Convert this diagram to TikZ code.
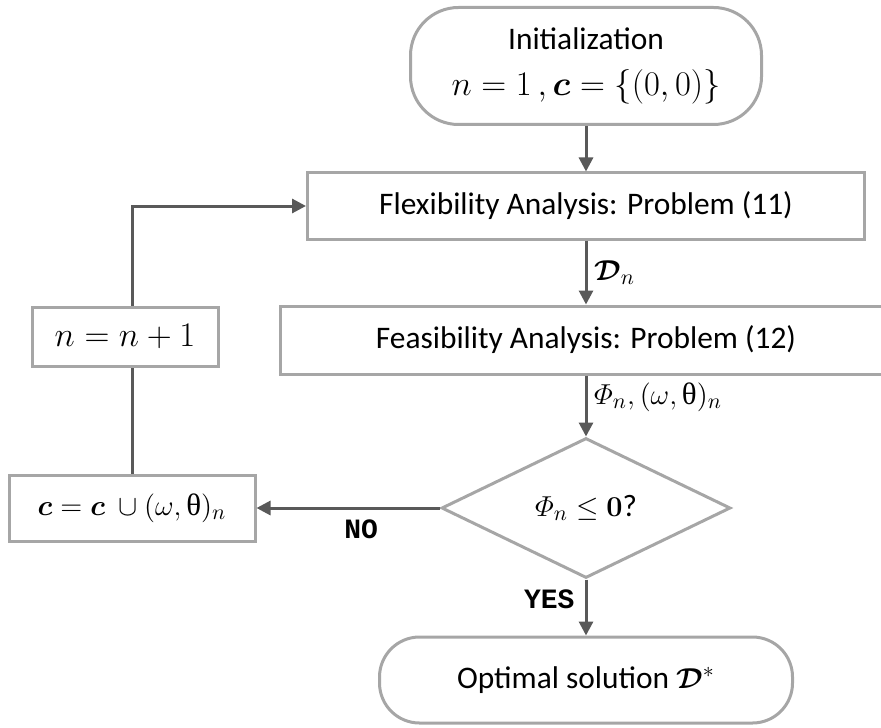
\documentclass[tikz,border=0pt]{standalone}
\usepackage{amsmath}
\usepackage[no-math]{fontspec}
\setmainfont{Carlito}
\setmonofont{Liberation Mono}
\newfontfamily\grkserif{Liberation Serif}
\usetikzlibrary{arrows.meta,shapes.geometric}
\definecolor{boxborder}{RGB}{166,166,166}
\definecolor{flowgray}{RGB}{89,89,89}
\newcommand{\uth}{\text{\grkserif θ}}
\newcommand{\mathsz}{\fontsize{15.5}{18}\selectfont}
\newcommand{\mathbig}{\fontsize{17}{20}\selectfont}
\tikzset{
  procbox/.style={draw=boxborder, line width=1.5pt, fill=white, align=center,
    inner sep=0pt, text=black},
  termbox/.style={procbox, rounded corners=24pt},
  decision/.style={procbox, diamond, aspect=2.06},
  flow/.style={-{Triangle[length=7pt,width=7pt]}, line width=1.5pt, draw=flowgray},
  link/.style={line width=1.5pt, draw=flowgray},
  flowlabel/.style={font=\mathsz, text=black},
  answer/.style={font=\ttfamily\bfseries\fontsize{14}{16}\selectfont, text=black, inner sep=5pt}
}

\begin{document}
\begin{tikzpicture}[x=0.5pt, y=-0.5pt, font=\fontsize{15.7}{18}\selectfont]
  \clip (0,0) rectangle (881,727);

  \node[termbox, minimum width=175.5pt, minimum height=58.5pt] (init) at (586,66)
    {Initialization\\[5pt]{\mathbig $n=1\,,\boldsymbol{c}=\{(0,0)\}$}};
  \node[procbox, minimum width=278.5pt, minimum height=33pt] (flex) at (586,206)
    {Flexibility Analysis: Problem (11)};
  \node[procbox, minimum width=306pt, minimum height=34pt] (feas) at (586,340)
    {Feasibility Analysis: Problem (12)};
  \node[decision, minimum width=144.5pt, minimum height=70pt] (check) at (586,508)
    {\mathsz $\varPhi_n\leq\mathbf{0}$?};
  \node[procbox, minimum width=123pt, minimum height=33pt] (update) at (132,508)
    {\mathsz $\boldsymbol{c}=\boldsymbol{c}\ \cup(\omega,\uth)_n$};
  \node[procbox, minimum width=93pt, minimum height=29.5pt] (incr) at (125,336.5)
    {\fontsize{16.5}{19}\selectfont $n=n+1$};
  \node[termbox, rounded corners=20pt, minimum width=206.5pt, minimum height=43pt] (opt) at (586,680)
    {Optimal solution {\mathsz $\boldsymbol{\mathcal{D}}^*$}};

  \draw[flow] (init) -- (flex);
  \draw[flow] (flex) -- node[flowlabel, right] {$\boldsymbol{\mathcal{D}}_n$} (feas);
  \draw[flow] (feas) -- node[flowlabel, right, pos=0.35] {$\varPhi_n,(\omega,\uth)_n$} (check);
  \draw[flow] (check) -- node[answer, left, pos=0.35] {YES} (opt);
  \draw[flow] (check) -- node[answer, below, pos=0.43] {NO} (update);
  \draw[link] (update.north) -- (update.north |- incr.south);
  \draw[flow] (update.north |- incr.north) |- (flex);
\end{tikzpicture}
\end{document}
